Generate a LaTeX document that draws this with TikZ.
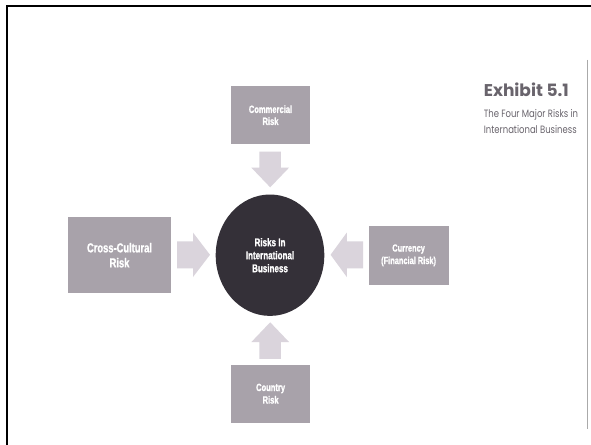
\documentclass[tikz,border=0pt]{standalone}
\usepackage{fontspec}
\usetikzlibrary{shapes.geometric}
\newfontfamily\boxfont[FakeStretch=0.72, BoldFont={Liberation Sans Bold}, BoldFeatures={FakeBold=1.2}]{Liberation Sans}
\newfontfamily\titlefont{Poppins}
\newfontfamily\subfont[FakeStretch=0.8]{Poppins}
\definecolor{boxgray}{RGB}{168,162,170}
\definecolor{arrgray}{RGB}{218,212,220}
\definecolor{circdark}{RGB}{52,48,56}
\definecolor{titlegray}{RGB}{105,100,108}
\definecolor{rulegray}{RGB}{170,170,170}
\tikzset{
  riskbox/.style={fill=boxgray, draw=none, inner sep=0pt, text=white, align=center, font=\boxfont\bfseries},
  blockarr/.style={fill=arrgray, draw=none},
  captext/.style={anchor=base west, inner sep=0pt, text=titlegray},
}
\begin{document}
\begin{tikzpicture}[x=1pt,y=-1pt]
\useasboundingbox (0,0) rectangle (591,444);
\fill[white] (0,0) rectangle (591,444);
% frame
\draw[line width=2pt] (7,445) -- (7,6) -- (592,6);
% boxes
\node[riskbox, minimum width=79.5pt, minimum height=58.4pt, font=\boxfont\bfseries\fontsize{10.5}{12}\selectfont] (comm) at (270.5,115.2) {Commercial\\Risk};
\node[riskbox, minimum width=103.3pt, minimum height=76.3pt, font=\boxfont\bfseries\fontsize{13}{15}\selectfont] (cross) at (119.5,255.2) {Cross-Cultural\\Risk};
\node[riskbox, minimum width=79.9pt, minimum height=58.6pt, font=\boxfont\bfseries\fontsize{10.3}{12.5}\selectfont] (curr) at (408.6,255.3) {Currency\\(Financial Risk)};
\node[riskbox, minimum width=79.2pt, minimum height=57.6pt, font=\boxfont\bfseries\fontsize{10.5}{12.5}\selectfont] (ctry) at (270.6,393.7) {Country\\Risk};
% centre
\node[ellipse, fill=circdark, draw=none, minimum width=108.6pt, minimum height=121.4pt, inner sep=0pt, text=white, align=center, font=\boxfont\bfseries\fontsize{11.2}{13}\selectfont] (risk) at (270,255.2) {Risks In\\International\\Business};
% block arrows
\coordinate (tipd) at (270.2,187.3);
\fill[blockarr] (tipd) -- ++(-18.8,-19.6) -- ++(8.05,0) -- ++(0,-16.2) -- ++(21.5,0) -- ++(0,16.2) -- ++(8.05,0) -- cycle;
\coordinate (tipu) at (270.2,322.3);
\fill[blockarr] (tipu) -- ++(-18.8,19.7) -- ++(8.05,0) -- ++(0,16.8) -- ++(21.5,0) -- ++(0,-16.8) -- ++(8.05,0) -- cycle;
\coordinate (tipr) at (210,254.8);
\fill[blockarr] (tipr) -- ++(-17,-22.2) -- ++(0,8.7) -- ++(-16,0) -- ++(0,27) -- ++(16,0) -- ++(0,8.7) -- cycle;
\coordinate (tipl) at (330.6,254.8);
\fill[blockarr] (tipl) -- ++(16.2,-22.2) -- ++(0,8.7) -- ++(16.2,0) -- ++(0,27) -- ++(-16.2,0) -- ++(0,8.7) -- cycle;
% caption
\node[captext, font=\titlefont\bfseries\fontsize{17}{17}\selectfont] (title) at (483.6,96) {Exhibit 5.1};
\node[captext, font=\subfont\fontsize{10.6}{12}\selectfont] (sub1) at (483.6,117.5) {The Four Major Risks in};
\node[captext, font=\subfont\fontsize{10.6}{12}\selectfont] (sub2) at (483.6,133) {International Business};
\draw[rulegray, line width=1pt] (587,60) -- (587,429);
\end{tikzpicture}
\end{document}
